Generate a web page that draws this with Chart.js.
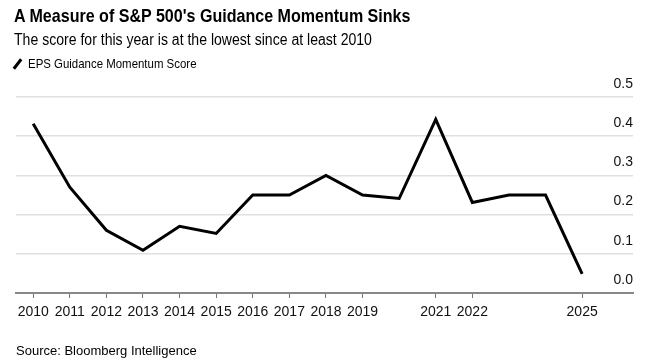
<!DOCTYPE html>
<html>
<head>
<meta charset="utf-8">
<script src="https://cdn.jsdelivr.net/npm/chart.js@4/dist/chart.umd.min.js"></script>
<style>
  html, body { margin: 0; padding: 0; background: #fff; }
  body { width: 661px; height: 362px; position: relative; overflow: hidden; font-family: "Liberation Sans", Arial, sans-serif; color: #000; }
  #c { position: absolute; left: 0; top: 0; }
  .t { position: absolute; white-space: nowrap; transform-origin: 0 0; }
  #title { left: 14px; top: 5px; font-size: 18.5px; font-weight: bold; transform: scaleX(0.868); }
  #subtitle { left: 14px; top: 31px; font-size: 15.8px; transform: scaleX(0.89); }
  #legend { left: 28px; top: 56px; font-size: 13px; transform: scaleX(0.88); }
  #legicon { position: absolute; left: 16px; top: 58px; width: 3px; height: 12px; background: #000; transform: rotate(38deg); }
  #source { left: 16px; top: 343px; font-size: 13px; }
</style>
</head>
<body>
<canvas id="c" width="661" height="362"></canvas>
<div class="t" id="title">A Measure of S&amp;P 500's Guidance Momentum Sinks</div>
<div class="t" id="subtitle">The score for this year is at the lowest since at least 2010</div>
<div id="legicon"></div>
<div class="t" id="legend">EPS Guidance Momentum Score</div>
<div class="t" id="source">Source: Bloomberg Intelligence</div>
<script>
const years = [2010, 2011, 2012, 2013, 2014, 2015, 2016, 2017, 2018, 2019, 2020, 2021, 2022, 2023, 2024, 2025];
const scores = [0.432, 0.270, 0.160, 0.109, 0.170, 0.152, 0.250, 0.250, 0.300, 0.250, 0.241, 0.443, 0.231, 0.250, 0.250, 0.049];
const xTickYears = [2010, 2011, 2012, 2013, 2014, 2015, 2016, 2017, 2018, 2019, 2021, 2022, 2025];
const yTicks = [0, 0.1, 0.2, 0.3, 0.4, 0.5];

const points = years.map((y, i) => ({ x: y, y: scores[i] }));

new Chart(document.getElementById('c'), {
  type: 'line',
  data: {
    datasets: [{
      label: 'EPS Guidance Momentum Score',
      data: points,
      borderColor: '#000',
      borderWidth: 3,
      pointRadius: 0,
      tension: 0,
      fill: false
    }]
  },
  options: {
    responsive: false,
    animation: false,
    events: [],
    layout: { padding: { left: 16, right: 28, top: 97, bottom: 0 } },
    plugins: { legend: { display: false }, tooltip: { enabled: false } },
    scales: {
      x: {
        type: 'linear',
        min: 2009.53,
        max: 2026.39,
        afterBuildTicks: (s) => { s.ticks = xTickYears.map(v => ({ value: v })); },
        afterFit: (s) => { s.height = 69; },
        grid: { drawOnChartArea: false, drawTicks: true, tickLength: 5, tickColor: '#777', tickWidth: 1 },
        border: { display: true, color: '#888', width: 2 },
        ticks: {
          autoSkip: false,
          maxRotation: 0,
          padding: 6,
          color: '#111',
          font: { family: 'Liberation Sans', size: 14 },
          callback: (v) => String(v)
        }
      },
      y: {
        position: 'right',
        min: 0,
        max: 0.5,
        afterBuildTicks: (s) => { s.ticks = yTicks.map(v => ({ value: v })); },
        grid: { color: '#e0e0e0', lineWidth: 1.5, drawTicks: false },
        border: { display: false },
        ticks: {
          mirror: true,
          padding: 0,
          labelOffset: -13,
          color: '#111',
          font: { family: 'Liberation Sans', size: 14 },
          callback: (v) => Number(v).toFixed(1)
        }
      }
    }
  }
});
</script>
</body>
</html>
